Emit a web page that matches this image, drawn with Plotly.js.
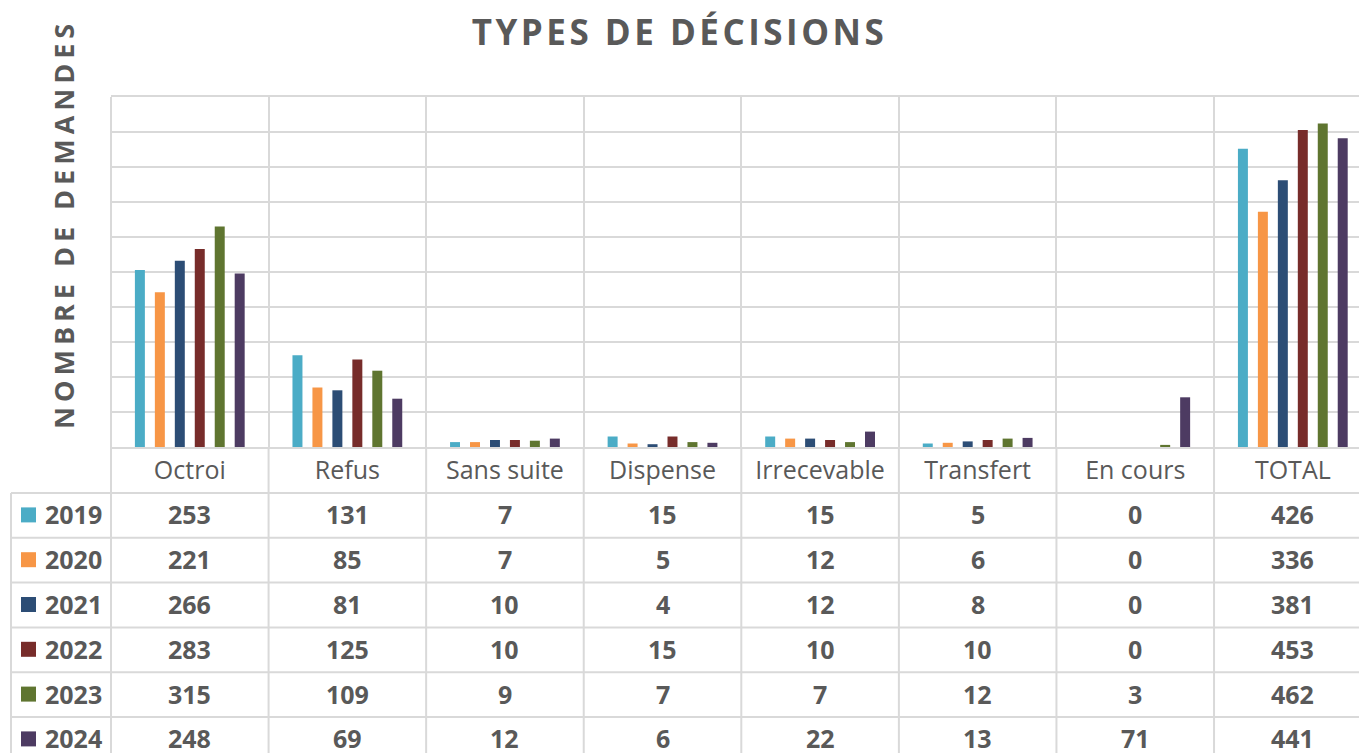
<!DOCTYPE html>
<html>
<head>
<meta charset="utf-8">
<script src="https://cdn.plot.ly/plotly-3.0.1.min.js"></script>
<style>
  html, body { margin: 0; padding: 0; background: #ffffff; }
  #chart { width: 1359px; height: 753px; }
</style>
</head>
<body>
<div id="chart"></div>
<script>
// ---------------- DATA ----------------
const categories = ['Octroi', 'Refus', 'Sans suite', 'Dispense', 'Irrecevable', 'Transfert', 'En cours', 'TOTAL'];
const years = ['2019', '2020', '2021', '2022', '2023', '2024'];
const values2019 = [253, 131, 7, 15, 15, 5, 0, 426];
const values2020 = [221, 85, 7, 5, 12, 6, 0, 336];
const values2021 = [266, 81, 10, 4, 12, 8, 0, 381];
const values2022 = [283, 125, 10, 15, 10, 10, 0, 453];
const values2023 = [315, 109, 9, 7, 7, 12, 3, 462];
const values2024 = [248, 69, 12, 6, 22, 13, 71, 441];
const seriesValues = [values2019, values2020, values2021, values2022, values2023, values2024];
const seriesColors = ['#4BACC6', '#F79646', '#2C4D75', '#772C2A', '#5F7530', '#4D3B62'];
const chartTitle = 'TYPES DE DÉCISIONS';
const yTitle = 'NOMBRE DE DEMANDES';

// ---------------- LAYOUT CONSTANTS ----------------
const W = 1359, H = 753;
const PL = 111, PT = 97, PB = 447;          // plot area (px)
const PW = W - PL, PH = PB - PT;
const TABLE_LEFT = 11;                      // left edge of the data table
const ROW0 = 493;                           // top of first data row
const ROWH = 44.8;                          // data row height
const TEXT = '#595959';
const GRID = '#D9D9D9';
const FONT = 'Open Sans, Noto Sans, sans-serif';

const px2paperX = px => (px - PL) / PW;
const px2paperY = py => (PB - py) / PH;

// ---------------- TRACES ----------------
const traces = years.map((yr, i) => ({
  type: 'bar',
  name: yr,
  x: categories,
  y: seriesValues[i],
  marker: { color: seriesColors[i], line: { width: 0 } },
  hoverinfo: 'x+y+name'
}));

// ---------------- TABLE (shapes + annotations) ----------------
const shapes = [];
const annotations = [];
const tableBottom = ROW0 + ROWH * years.length;

// horizontal row lines
for (let k = 0; k <= years.length; k++) {
  const yy = px2paperY(ROW0 + ROWH * k);
  shapes.push({ type: 'line', xref: 'paper', yref: 'paper',
    x0: px2paperX(TABLE_LEFT), x1: 1, y0: yy, y1: yy,
    line: { color: GRID, width: 2 } });
}
// left border of legend column
shapes.push({ type: 'line', xref: 'paper', yref: 'paper',
  x0: px2paperX(TABLE_LEFT), x1: px2paperX(TABLE_LEFT),
  y0: px2paperY(ROW0), y1: px2paperY(tableBottom),
  line: { color: GRID, width: 2 } });
// left border of the chart/table body
shapes.push({ type: 'line', xref: 'paper', yref: 'paper',
  x0: 0, x1: 0, y0: 1, y1: px2paperY(tableBottom),
  line: { color: GRID, width: 2 } });
// vertical separators between categories, down through the table
for (let c = 1; c < categories.length; c++) {
  shapes.push({ type: 'line', xref: 'x', yref: 'paper',
    x0: c - 0.5, x1: c - 0.5, y0: 0, y1: px2paperY(tableBottom),
    line: { color: GRID, width: 2 } });
}

// legend keys + year labels + values
years.forEach((yr, j) => {
  const cy = ROW0 + ROWH * j + ROWH / 2 - 1;
  shapes.push({ type: 'rect', xref: 'paper', yref: 'paper',
    x0: px2paperX(21), x1: px2paperX(36),
    y0: px2paperY(cy + 8), y1: px2paperY(cy - 7),
    fillcolor: seriesColors[j], line: { width: 0 } });
  annotations.push({ xref: 'paper', yref: 'paper',
    x: px2paperX(44), y: px2paperY(cy), xanchor: 'left', yanchor: 'middle',
    text: yr, showarrow: false, borderpad: 0,
    font: { family: FONT, size: 25, color: TEXT, weight: 700 } });
  categories.forEach((cat, c) => {
    annotations.push({ xref: 'x', yref: 'paper',
      x: cat, y: px2paperY(cy), xanchor: 'center', yanchor: 'middle',
      text: String(seriesValues[j][c]), showarrow: false, borderpad: 0,
      font: { family: FONT, size: 25, color: TEXT, weight: 700 } });
  });
});

// y-axis title (rotated, positioned like the original)
annotations.push({ xref: 'paper', yref: 'paper',
  x: px2paperX(63), y: px2paperY(224), xanchor: 'center', yanchor: 'middle',
  textangle: -90, showarrow: false,
  text: '<span style="letter-spacing:5px">' + yTitle + '</span>',
  font: { family: FONT, size: 27, color: TEXT, weight: 700 } });

const layout = {
  width: W, height: H,
  margin: { l: PL, r: 0, t: PT, b: H - PB, pad: 0 },
  paper_bgcolor: '#ffffff',
  plot_bgcolor: '#ffffff',
  showlegend: false,
  barmode: 'group',
  bargap: 0.24,
  bargroupgap: 0.5,
  title: {
    text: '<span style="letter-spacing:3.5px">' + chartTitle + '</span>',
    x: 0.5, xref: 'container', xanchor: 'center',
    y: 1 - 33 / H, yref: 'container', yanchor: 'middle',
    font: { family: FONT, size: 35, color: TEXT, weight: 700 }
  },
  xaxis: {
    type: 'category',
    range: [-0.5, 7.42],
    tickson: 'boundaries',
    showgrid: true, gridcolor: GRID, gridwidth: 2,
    showline: true, linecolor: GRID, linewidth: 2, mirror: 'allticks',
    ticks: '', ticklen: 0,
    tickfont: { family: FONT, size: 25, color: TEXT },
    fixedrange: true
  },
  yaxis: {
    range: [0, 500],
    dtick: 50,
    showgrid: true, gridcolor: GRID, gridwidth: 2,
    zeroline: false,
    showline: false,
    showticklabels: false,
    ticks: '',
    fixedrange: true
  },
  shapes: shapes,
  annotations: annotations
};

Plotly.newPlot('chart', traces, layout, { displayModeBar: false, responsive: false });
</script>
</body>
</html>
